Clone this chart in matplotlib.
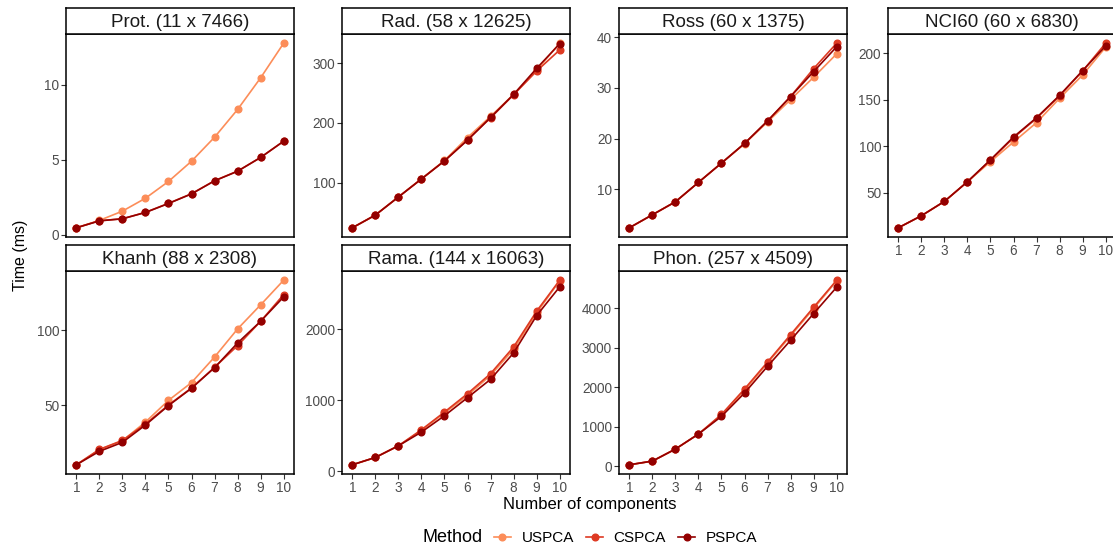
import matplotlib
matplotlib.use("Agg")
import matplotlib.pyplot as plt
from matplotlib.lines import Line2D

plt.rcParams['font.family'] = ['Liberation Sans', 'DejaVu Sans']

comps = [1, 2, 3, 4, 5, 6, 7, 8, 9, 10]
methods = ["USPCA", "CSPCA", "PSPCA"]
colors = ["#FC8D59", "#DE3A23", "#930000"]

titles = ["Prot. (11 x 7466)", "Rad. (58 x 12625)", "Ross (60 x 1375)", "NCI60 (60 x 6830)",
          "Khanh (88 x 2308)", "Rama. (144 x 16063)", "Phon. (257 x 4509)"]

prot_us = [0.47, 0.96, 1.58, 2.44, 3.56, 4.91, 6.51, 8.36, 10.47, 12.78]
prot_cs = [0.47, 0.94, 1.07, 1.50, 2.10, 2.74, 3.61, 4.25, 5.16, 6.25]
prot_ps = [0.47, 0.93, 1.07, 1.49, 2.09, 2.73, 3.60, 4.24, 5.16, 6.24]

rad_us = [25.3, 46.5, 76.8, 106.9, 137.5, 175.8, 211.0, 247.6, 288.0, 333.0]
rad_cs = [25.3, 46.5, 76.6, 106.7, 136.8, 172.0, 208.5, 247.0, 286.6, 321.7]
rad_ps = [25.3, 46.5, 76.6, 106.7, 136.8, 171.3, 209.2, 247.6, 291.0, 332.0]

ross_us = [2.46, 5.02, 7.58, 11.4, 15.2, 19.0, 23.3, 27.7, 32.1, 36.7]
ross_cs = [2.46, 5.02, 7.58, 11.4, 15.2, 19.06, 23.5, 28.3, 33.8, 38.8]
ross_ps = [2.46, 5.02, 7.58, 11.4, 15.2, 19.06, 23.5, 28.3, 33.2, 38.1]

nci_us = [12.5, 25.4, 40.8, 61.9, 83.4, 104.5, 125.3, 151.4, 176.4, 206.2]
nci_cs = [12.5, 25.4, 40.8, 61.9, 85.0, 109.0, 130.0, 154.0, 180.7, 210.5]
nci_ps = [12.5, 25.4, 40.8, 61.9, 85.5, 109.9, 130.6, 154.6, 181.1, 207.6]

khanh_us = [10.0, 20.1, 26.1, 38.6, 53.1, 65.0, 82.1, 100.9, 117.0, 133.5]
khanh_cs = [10.0, 20.3, 26.3, 37.3, 50.0, 61.4, 75.2, 89.7, 106.0, 123.9]
khanh_ps = [10.0, 19.0, 25.0, 36.6, 49.6, 61.2, 75.0, 91.5, 106.0, 122.3]

rama_us = [94, 197, 361, 577, 822, 1070, 1352, 1718, 2230, 2681]
rama_cs = [94, 197, 361, 587, 836, 1094, 1376, 1751, 2254, 2690]
rama_ps = [94, 197, 361, 554, 784, 1038, 1296, 1667, 2192, 2596]

phon_us = [42, 135, 439, 819, 1300, 1924, 2616, 3300, 3992, 4692]
phon_cs = [42, 135, 439, 819, 1316, 1958, 2641, 3333, 4025, 4709]
phon_ps = [42, 135, 439, 819, 1266, 1857, 2532, 3190, 3865, 4532]

yticks = [[0, 5, 10], [100, 200, 300], [10, 20, 30, 40], [50, 100, 150, 200],
          [50, 100], [0, 1000, 2000], [0, 1000, 2000, 3000, 4000]]

series = [(prot_us, prot_cs, prot_ps), (rad_us, rad_cs, rad_ps), (ross_us, ross_cs, ross_ps),
          (nci_us, nci_cs, nci_ps), (khanh_us, khanh_cs, khanh_ps),
          (rama_us, rama_cs, rama_ps), (phon_us, phon_cs, phon_ps)]

W, H = 1113, 550
fig = plt.figure(figsize=(W / 100, H / 100), dpi=100)


def box(l, t, w, h):
    return [l / W, 1 - (t + h) / H, w / W, h / H]


col_left = [66, 342, 619, 888]
row_top = [8, 245]
pw, strip_h, ph = 228, 26, 203

for i, (title, data) in enumerate(zip(titles, series)):
    r, c = divmod(i, 4)
    l, t = col_left[c], row_top[r]
    ax = fig.add_axes(box(l, t + strip_h, pw, ph))
    for vals, col in zip(data, colors):
        ax.plot(comps, vals, color=col, lw=1.2, marker="o", ms=4.8, mec=col, mfc=col)
    ax.set_xlim(0.55, 10.45)
    lo = min(min(v) for v in data)
    hi = max(max(v) for v in data)
    pad = (hi - lo) * 0.05
    ax.set_ylim(lo - pad, hi + pad)
    ax.set_yticks(yticks[i])
    ax.set_xticks(comps)
    for s in ax.spines.values():
        s.set_linewidth(1.1)
        s.set_color("black")
    ax.tick_params(axis="both", length=3.5, width=0.8, color="#333333",
                   labelcolor="#4D4D4D", labelsize=9.8, pad=1.5)
    if r == 0 and c < 3:
        ax.tick_params(axis="x", bottom=False, labelbottom=False)
    # strip
    sax = fig.add_axes(box(l, t, pw, strip_h))
    sax.set_xticks([])
    sax.set_yticks([])
    for s in sax.spines.values():
        s.set_linewidth(1.1)
        s.set_color("black")
    sax.text(0.5, 0.45, title, ha="center", va="center", fontsize=13.5, color="#1A1A1A",
             transform=sax.transAxes)

fig.text(590 / W, 1 - 504 / H, "Number of components", ha="center", va="center",
         fontsize=12, color="black")
fig.text(21 / W, 1 - 255 / H, "Time (ms)", ha="center", va="center", rotation=90,
         fontsize=11.5, color="black")

handles = [Line2D([0], [0], color=col, lw=1.2, marker="o", ms=4.8) for col in colors]
fig.text(422 / W, 1 - 538 / H, "Method", ha="left", va="center", fontsize=13)
fig.legend(handles, methods, ncol=3, loc="center left", bbox_to_anchor=(494 / W, 1 - 538 / H),
           frameon=False, fontsize=11, handlelength=1.1, handletextpad=0.7, columnspacing=0.8,
           borderpad=0, borderaxespad=0)

fig.savefig("out.png", dpi=100)
